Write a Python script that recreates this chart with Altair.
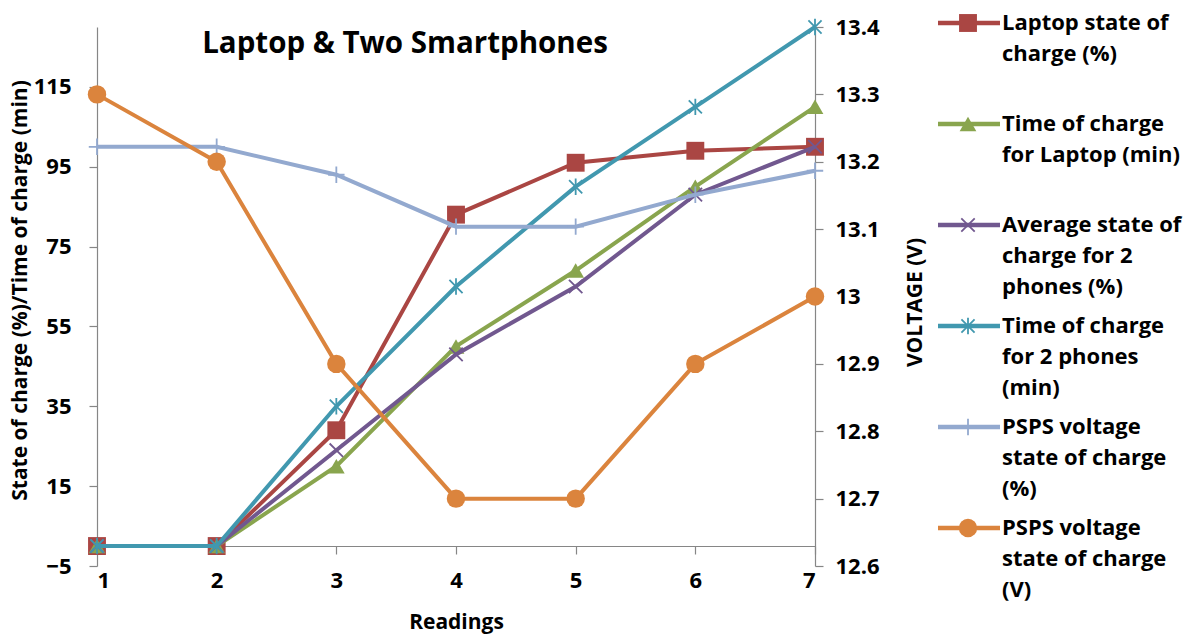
import altair as alt
import pandas as pd

# ---- data -------------------------------------------------------------
readings = [1, 2, 3, 4, 5, 6, 7]
laptop_soc = [0, 0, 29, 83, 96, 99, 100]
laptop_time = [0, 0, 20, 50, 69, 90, 110]
phones_soc = [0, 0, 24, 48, 65, 88, 100]
phones_time = [0, 0, 35, 65, 90, 110, 130]
psps_soc = [100, 100, 93, 80, 80, 88, 94]
psps_volt = [13.3, 13.2, 12.9, 12.7, 12.7, 12.9, 13.0]

series_names = [
    "Laptop state of charge (%)",
    "Time of charge for Laptop (min)",
    "Average state of charge for 2 phones (%)",
    "Time of charge for 2 phones (min)",
    "PSPS voltage state of charge (%)",
    "PSPS voltage state of charge (V)",
]
legend_labels = [
    "Laptop state of\ncharge (%)",
    "Time of charge\nfor Laptop (min)",
    "Average state of\ncharge for 2\nphones (%)",
    "Time of charge\nfor 2 phones\n(min)",
    "PSPS voltage\nstate of charge\n(%)",
    "PSPS voltage\nstate of charge\n(V)",
]
left_ticks = [-5, 15, 35, 55, 75, 95, 115]
right_ticks = [12.6, 12.7, 12.8, 12.9, 13.0, 13.1, 13.2, 13.3, 13.4]

colors = ["#AA4643", "#89A54E", "#71588F", "#4198AF", "#93A9CF", "#DB843D"]

X_PATH = "M-1,-1L1,1M-1,1L1,-1"
STAR_PATH = "M-0.8,-0.8L0.8,0.8M-0.8,0.8L0.8,-0.8M0,-1L0,1"
PLUS_PATH = "M-1,0L1,0M0,-1L0,1"
# shape, filled, size, stroke width
markers = [
    ("square", True, 320, 0),
    ("triangle-up", True, 280, 0),
    (X_PATH, False, 180, 1.8),
    (STAR_PATH, False, 270, 1.8),
    (PLUS_PATH, False, 270, 1.8),
    ("circle", True, 340, 0),
]

values_by_series = [laptop_soc, laptop_time, phones_soc, phones_time, psps_soc, psps_volt]
rows = []
for name, vals in zip(series_names, values_by_series):
    for r, v in zip(readings, vals):
        rows.append({"series": name, "reading": r, "value": v})
df = pd.DataFrame(rows)

legend_df = pd.DataFrame(
    {"series": series_names, "entry": list(range(len(series_names))), "label": legend_labels}
)

FONT = "Open Sans"
W, H = 718, 539
AXIS_GREY = "#868686"

x_enc = alt.X(
    "reading:Q",
    scale=alt.Scale(domain=[1, 7], nice=False, zero=False),
    axis=alt.Axis(
        values=readings, format="d", offset=-20, tickSize=8, labelPadding=26,
        labelBaseline="middle", title="Readings", titleX=W / 2, titleY=76,
        titleBaseline="middle", titleAlign="center",
    ),
)

left_y = alt.Y(
    "value:Q",
    scale=alt.Scale(domain=[-5, 130], nice=False, zero=False),
    axis=alt.Axis(
        values=left_ticks, tickSize=8, labelPadding=18,
        title="State of charge (%)/Time of charge (min)",
        titleX=-77, titleY=263, titleAngle=270, titleBaseline="middle", titleAlign="center",
    ),
)
right_y = alt.Y(
    "value:Q",
    scale=alt.Scale(domain=[12.6, 13.4], nice=False, zero=False),
    axis=alt.Axis(
        orient="right", values=right_ticks, format=".1~f", tickSize=8, labelPadding=12,
        title="VOLTAGE (V)", titleX=100, titleY=275, titleAngle=270,
        titleBaseline="middle", titleAlign="center",
    ),
)


def series_layers(i, y_enc):
    name = series_names[i]
    shape, filled, size, sw = markers[i]
    base = alt.Chart(df).transform_filter(alt.datum.series == name)
    line = base.mark_line(color=colors[i], strokeWidth=4).encode(x=x_enc, y=y_enc)
    pt_kwargs = dict(shape=shape, filled=filled, size=size, color=colors[i], opacity=1)
    if not filled:
        pt_kwargs["strokeWidth"] = sw
    pts = base.mark_point(**pt_kwargs).encode(x=x_enc, y=y_enc)
    return [line, pts]


left_layers = []
for i in range(5):
    left_layers += series_layers(i, left_y)
left = alt.layer(*left_layers)

right = alt.layer(*series_layers(5, right_y))

# ---- legend -----------------------------------------------------------
legend_y = alt.Y(
    "entry:Q", scale=alt.Scale(domain=[0, 5], range=[-4, 501], nice=False, zero=False), axis=None
)
legend_layers = []
for i, name in enumerate(series_names):
    shape, filled, size, sw = markers[i]
    lb = alt.Chart(legend_df).transform_filter(alt.datum.series == name)
    legend_layers.append(
        lb.mark_rule(color=colors[i], strokeWidth=4.5).encode(
            x=alt.value(841), x2=alt.value(903), y=legend_y
        )
    )
    pt_kwargs = dict(shape=shape, filled=filled, size=size, color=colors[i], opacity=1)
    if not filled:
        pt_kwargs["strokeWidth"] = sw
    legend_layers.append(lb.mark_point(**pt_kwargs).encode(x=alt.value(871), y=legend_y))
legend_layers.append(
    alt.Chart(legend_df).mark_text(
        align="left", baseline="top", dy=-10, lineBreak="\n", lineHeight=31,
        font=FONT, fontSize=22, fontWeight="bold", color="black",
    ).encode(x=alt.value(905), y=legend_y, text="label:N")
)
legend = alt.layer(*legend_layers)

chart = (
    alt.layer(left, right, legend)
    .resolve_scale(y="independent")
    .properties(
        width=W,
        height=H,
        autosize=alt.AutoSizeParams(type="none"),
        padding={"left": 97, "top": 27, "right": 383, "bottom": 74},
        background="white",
        title=alt.Title(
            "Laptop & Two Smartphones", font=FONT, fontSize=29.5, fontWeight="bold",
            color="black", anchor="middle", frame="group", dx=-51, dy=70, offset=0,
            baseline="alphabetic",
        ),
    )
    .configure_view(stroke=None)
    .configure_axis(
        grid=False, domainColor=AXIS_GREY, tickColor=AXIS_GREY, domainWidth=1.2, tickWidth=1.2,
        labelFont=FONT, labelFontSize=22, labelFontWeight="bold", labelColor="black",
        titleFont=FONT, titleFontSize=21, titleFontWeight="bold", titleColor="black",
    )
)

chart.save("out.html", embed_options={"renderer": "svg", "actions": False})
